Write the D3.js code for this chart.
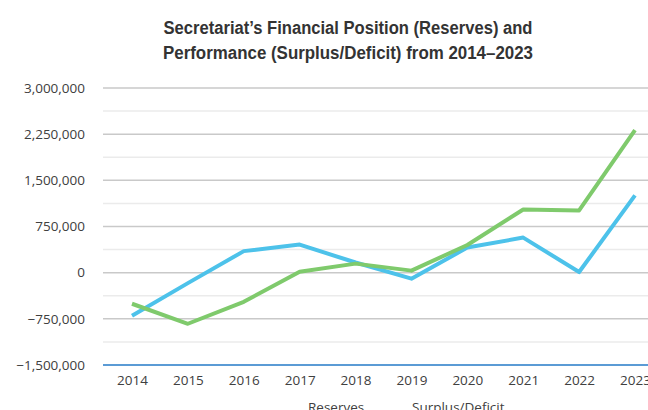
<!DOCTYPE html>
<html>
<head>
<meta charset="utf-8">
<script src="https://cdn.jsdelivr.net/npm/d3@7"></script>
<style>
  html, body { margin: 0; padding: 0; background: #fff; overflow: hidden; }
  #chart { width: 648px; height: 410px; }
</style>
</head>
<body>
<div id="chart"></div>
<script>
// chart data
const years = ["2014", "2015", "2016", "2017", "2018", "2019", "2020", "2021", "2022", "2023"];
const reserves = [-700000, -170000, 350000, 456000, 165000, -98000, 408000, 570000, 10000, 1255000];
const surplusDeficit = [-505000, -830000, -473000, 16000, 147000, 33000, 450000, 1027000, 1011000, 2315000];
const yTicks = [-1500000, -750000, 0, 750000, 1500000, 2250000, 3000000];
const yMinorTicks = [-1125000, -375000, 375000, 1125000, 1875000, 2625000];
const seriesNames = ["Reserves", "Surplus/Deficit"];
const seriesColors = ["#4dc2ea", "#7fca6c"];

const width = 648, height = 410;
const plot = {left: 103, right: 648, top: 88, bottom: 365};

const svg = d3.select("#chart")
    .append("svg")
    .attr("width", width)
    .attr("height", height);

// title
const title = svg.append("text")
    .attr("text-anchor", "middle")
    .style("font-family", "'Liberation Sans Narrow', 'Arial Narrow', 'Liberation Sans', sans-serif")
    .style("font-weight", "bold")
    .style("font-size", "17.5px")
    .style("fill", "#333");
title.append("tspan").attr("x", 348).attr("y", 34)
    .attr("textLength", 369).attr("lengthAdjust", "spacingAndGlyphs")
    .text("Secretariat\u2019s Financial Position (Reserves) and");
title.append("tspan").attr("x", 348).attr("y", 59)
    .attr("textLength", 370).attr("lengthAdjust", "spacingAndGlyphs")
    .text("Performance (Surplus/Deficit) from 2014\u20132023");

// scales
const x = d3.scalePoint()
    .domain(years)
    .range([132, 635]);

const y = d3.scaleLinear()
    .domain([-1500000, 3000000])
    .range([plot.bottom, plot.top]);

// minor gridlines
svg.append("g")
    .selectAll("line")
    .data(yMinorTicks)
    .enter()
    .append("line")
    .attr("x1", plot.left)
    .attr("x2", plot.right)
    .attr("y1", d => y(d))
    .attr("y2", d => y(d))
    .attr("stroke", "#ebebeb")
    .attr("stroke-width", 1.5);

// major gridlines
svg.append("g")
    .selectAll("line")
    .data(yTicks.filter(d => d !== -1500000))
    .enter()
    .append("line")
    .attr("x1", plot.left)
    .attr("x2", plot.right)
    .attr("y1", d => y(d))
    .attr("y2", d => y(d))
    .attr("stroke", "#c9c9c9")
    .attr("stroke-width", 1.5);

// y axis labels
const yAxis = svg.append("g")
    .attr("transform", `translate(${plot.left},0)`)
    .call(d3.axisLeft(y).tickValues(yTicks).tickSize(0).tickPadding(18)
        .tickFormat(d3.format(",")));
yAxis.select(".domain").remove();
yAxis.selectAll("text")
    .style("font-family", "'Open Sans', sans-serif")
    .style("font-size", "13.5px")
    .style("fill", "#404040");

// x axis
const xAxis = svg.append("g")
    .attr("transform", `translate(0,${plot.bottom})`)
    .call(d3.axisBottom(x).tickSize(0).tickPadding(10));
xAxis.select(".domain").remove();
xAxis.selectAll("text")
    .style("font-family", "'Open Sans', sans-serif")
    .style("font-size", "13.5px")
    .style("fill", "#404040");

svg.append("line")
    .attr("x1", plot.left)
    .attr("x2", plot.right)
    .attr("y1", y(-1500000))
    .attr("y2", y(-1500000))
    .attr("stroke", "#5b9bd5")
    .attr("stroke-width", 2);

// lines
const line = d3.line()
    .x((d, i) => x(years[i]))
    .y(d => y(d));

[reserves, surplusDeficit].forEach((series, i) => {
    svg.append("path")
        .datum(series)
        .attr("fill", "none")
        .attr("stroke", seriesColors[i])
        .attr("stroke-width", 4)
        .attr("stroke-linejoin", "round")
        .attr("d", line);
});

// legend (markers fall below the visible area, as in the source)
const legendX = [308, 412];
const legend = svg.append("g");
seriesNames.forEach((name, i) => {
    legend.append("line")
        .attr("x1", legendX[i] - 30)
        .attr("x2", legendX[i] - 8)
        .attr("y1", 418)
        .attr("y2", 418)
        .attr("stroke", seriesColors[i])
        .attr("stroke-width", 4);
    legend.append("text")
        .attr("x", legendX[i])
        .attr("y", 412)
        .style("font-family", "'Open Sans', sans-serif")
        .style("font-size", "13.5px")
        .style("fill", "#404040")
        .text(name);
});
</script>
</body>
</html>
